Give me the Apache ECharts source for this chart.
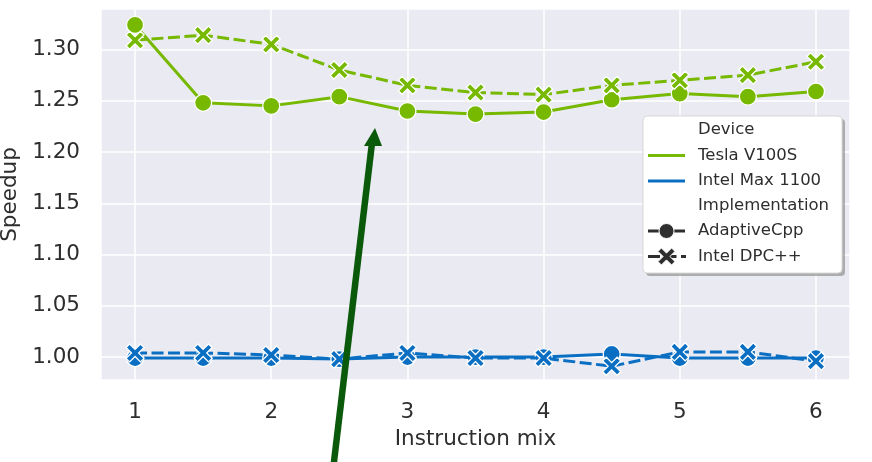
<!DOCTYPE html>
<html>
<head>
<meta charset="utf-8">
<script src="https://cdn.jsdelivr.net/npm/echarts@6/dist/echarts.min.js"></script>
<style>
  html, body { margin: 0; padding: 0; background: #ffffff; }
  #chart { width: 872px; height: 462px; }
</style>
</head>
<body>
<div id="chart"></div>
<script>
// Instruction-mix levels on the x axis
const instructionMix = [1, 1.5, 2, 2.5, 3, 3.5, 4, 4.5, 5, 5.5, 6];

// Speedup per device and implementation
const teslaAdaptiveCpp = [1.324, 1.248, 1.245, 1.254, 1.240, 1.237, 1.239, 1.251, 1.257, 1.254, 1.259];
const teslaDpcpp       = [1.309, 1.314, 1.305, 1.280, 1.265, 1.258, 1.256, 1.265, 1.270, 1.275, 1.288];
const intelAdaptiveCpp = [0.999, 0.999, 0.999, 0.998, 1.000, 1.000, 1.000, 1.003, 0.999, 0.999, 0.999];
const intelDpcpp       = [1.004, 1.004, 1.002, 0.998, 1.004, 0.999, 0.999, 0.991, 1.005, 1.005, 0.996];

const deviceNames = ['Tesla V100S', 'Intel Max 1100'];
const implNames = ['AdaptiveCpp', 'Intel DPC++'];

const GREEN = '#76b900';
const BLUE = '#0a6fc2';
const TEXT = '#2e2e2e';
const FONT = 'DejaVu Sans';

// Filled "X" marker outline on a 20x20 box
const X_POINTS = [[0,4],[4,0],[10,6],[16,0],[20,4],[14,10],[20,16],[16,20],[10,14],[4,20],[0,16],[6,10]];
const X_MARK = 'path://M' + X_POINTS.map(p => p.join(',')).join(' L') + ' Z';

function pairs(vals) { return instructionMix.map((x, i) => [x, vals[i]]); }

function makeSeries(name, vals, color, dashed) {
  return {
    name: name,
    type: 'line',
    data: pairs(vals),
    symbol: dashed ? X_MARK : 'circle',
    symbolSize: dashed ? 18 : 17,
    showAllSymbol: true,
    lineStyle: { color: color, width: 3, type: dashed ? [12, 4.5] : 'solid' },
    itemStyle: { color: color, borderColor: '#ffffff', borderWidth: 1.3 },
    emphasis: { disabled: true },
    z: dashed ? 3 : 2
  };
}

const chart = echarts.init(document.getElementById('chart'), null, { renderer: 'canvas' });

// Legend panel (grouped by device colour and implementation style)
const lgX = 643, lgY = 116, lgW = 199, lgH = 157;
const rowY = [130, 155.5, 181, 206, 231, 256.5];
const lgText = ['Device', deviceNames[0], deviceNames[1], 'Implementation', implNames[0], implNames[1]];
const legendGraphics = [
  { type: 'rect', shape: { x: lgX + 3, y: lgY + 3, width: lgW, height: lgH, r: 4 },
    style: { fill: 'rgba(120,120,120,0.55)' }, z: 100 },
  { type: 'rect', shape: { x: lgX, y: lgY, width: lgW, height: lgH, r: 4 },
    style: { fill: '#ffffff', stroke: '#d8d8d8', lineWidth: 1 }, z: 101 }
];
lgText.forEach((t, i) => {
  legendGraphics.push({
    type: 'text', x: 698, y: rowY[i], z: 102,
    style: { text: t, fontFamily: FONT, fontSize: 16.5, fill: TEXT, verticalAlign: 'middle', align: 'left' }
  });
});
const xScale = 0.85, xCx = 666.5;
legendGraphics.push(
  { type: 'line', shape: { x1: 648, y1: rowY[1], x2: 685, y2: rowY[1] }, style: { stroke: GREEN, lineWidth: 3 }, z: 102 },
  { type: 'line', shape: { x1: 648, y1: rowY[2], x2: 685, y2: rowY[2] }, style: { stroke: BLUE, lineWidth: 3 }, z: 102 },
  { type: 'line', shape: { x1: 648, y1: rowY[4], x2: 685, y2: rowY[4] }, style: { stroke: TEXT, lineWidth: 3 }, z: 102 },
  { type: 'circle', shape: { cx: xCx, cy: rowY[4], r: 7.5 }, style: { fill: TEXT, stroke: '#ffffff', lineWidth: 1 }, z: 103 },
  { type: 'line', shape: { x1: 648, y1: rowY[5], x2: 686, y2: rowY[5] }, style: { stroke: TEXT, lineWidth: 3, lineDash: [12, 4.5] }, z: 102 },
  { type: 'polygon',
    shape: { points: X_POINTS.map(p => [xCx + (p[0] - 10) * xScale, rowY[5] + (p[1] - 10) * xScale]) },
    style: { fill: TEXT, stroke: '#ffffff', lineWidth: 1 }, z: 103 }
);

// Annotation arrow
const arrowGraphics = [
  { type: 'line', shape: { x1: 333, y1: 470, x2: 372, y2: 143 },
    style: { stroke: '#0b5a0b', lineWidth: 6.5 }, z: 110 },
  { type: 'polygon', shape: { points: [[375, 128], [364, 146], [382, 146]] },
    style: { fill: '#0b5a0b' }, z: 111 }
];

const option = {
  animation: false,
  backgroundColor: '#ffffff',
  textStyle: { fontFamily: FONT },
  grid: {
    left: 101, right: 22, top: 9, bottom: 82,
    show: true, backgroundColor: '#eaeaf2', borderWidth: 0,
    containLabel: false,
    outerBoundsMode: 'none'
  },
  xAxis: {
    type: 'value',
    min: 0.75, max: 6.25,
    splitNumber: 5,
    name: 'Instruction mix',
    nameLocation: 'middle',
    nameGap: 48,
    nameTextStyle: { fontFamily: FONT, fontSize: 21.5, color: TEXT },
    axisLine: { show: false },
    axisTick: { show: false },
    axisLabel: {
      fontFamily: FONT, fontSize: 21.5, color: TEXT, margin: 21,
      showMinLabel: false, showMaxLabel: false,
      formatter: v => (Math.abs(v - Math.round(v)) < 1e-9 ? String(Math.round(v)) : '')
    },
    splitLine: { show: true, lineStyle: { color: '#ffffff', width: 1.5 } }
  },
  yAxis: {
    type: 'value',
    min: 0.9776, max: 1.3395,
    splitNumber: 7,
    name: 'Speedup',
    nameLocation: 'middle',
    nameGap: 80,
    nameTextStyle: { fontFamily: FONT, fontSize: 21.5, color: TEXT },
    axisLine: { show: false },
    axisTick: { show: false },
    axisLabel: {
      fontFamily: FONT, fontSize: 21.5, color: TEXT, margin: 21,
      showMinLabel: false, showMaxLabel: false,
      formatter: v => v.toFixed(2)
    },
    splitLine: { show: true, lineStyle: { color: '#ffffff', width: 1.5 } }
  },
  series: [
    makeSeries(deviceNames[0] + ' / ' + implNames[0], teslaAdaptiveCpp, GREEN, false),
    makeSeries(deviceNames[0] + ' / ' + implNames[1], teslaDpcpp, GREEN, true),
    makeSeries(deviceNames[1] + ' / ' + implNames[0], intelAdaptiveCpp, BLUE, false),
    makeSeries(deviceNames[1] + ' / ' + implNames[1], intelDpcpp, BLUE, true)
  ],
  graphic: legendGraphics.concat(arrowGraphics)
};

chart.setOption(option);
</script>
</body>
</html>
